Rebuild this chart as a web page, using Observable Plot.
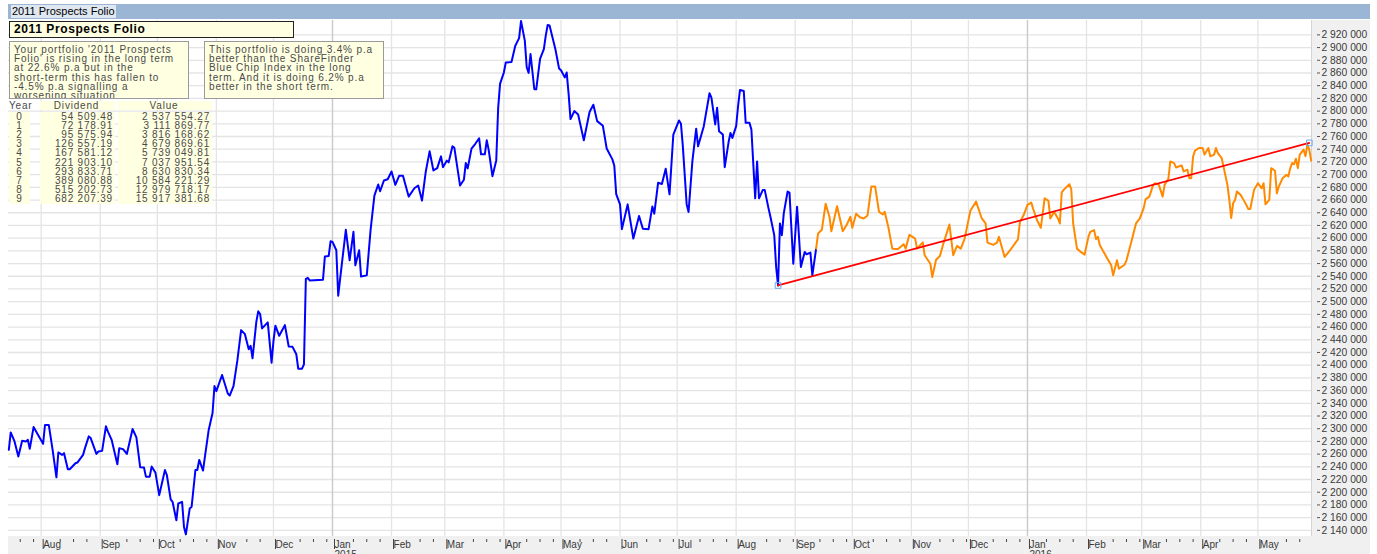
<!DOCTYPE html>
<html><head><meta charset="utf-8">
<script src="https://cdn.jsdelivr.net/npm/d3@7"></script>
<script src="https://cdn.jsdelivr.net/npm/@observablehq/plot@0.6"></script>
<style>
body{margin:0;background:#fff;width:1377px;height:554px;overflow:hidden;position:relative;font-family:"Liberation Sans",Arial,sans-serif;}
#titlebar{position:absolute;left:8px;top:4px;width:1362px;height:15px;background:#9bb5d4;}
#titlebar span{position:absolute;left:3px;top:1px;font-size:11px;line-height:13px;background:#dfe7f1;color:#000;padding:0 1px;}
#band{position:absolute;left:8px;top:20px;width:1362px;height:534px;background:#f0f0f0;}
#plotbg{position:absolute;left:8px;top:20px;width:1303px;height:516px;background:#fff;border-right:1px solid #d4d4d4;}
#chart{position:absolute;left:0;top:20px;}
.box{position:absolute;background:#ffffe1;box-sizing:border-box;overflow:hidden;}
#tbox{left:9px;top:21px;width:285px;height:17px;border:1px solid #222;font-weight:bold;font-size:12px;letter-spacing:0.6px;line-height:15px;padding-left:4px;color:#000;}
.note{top:41px;height:58px;width:180px;border:1px solid #9a9a9a;font-size:10px;letter-spacing:0.85px;line-height:9.2px;color:#4a4a4a;padding:3px 0 0 4px;}
#note1{left:9px;}
#note2{left:204px;}
#tbl{position:absolute;left:9px;top:101px;font-size:10px;letter-spacing:0.8px;color:#4a4a4a;}
#tbl div{position:absolute;height:9.2px;line-height:9.2px;white-space:nowrap;}
.cy{left:0;width:21px;text-align:center;}
.cd{left:31px;width:73px;text-align:right;background:#ffffe1;padding-right:2px;}
.cv{left:109px;width:92px;text-align:right;background:#ffffe1;padding-right:2px;}
.hd{text-align:center !important;}
</style>
</head><body>
<div id="titlebar"><span id="ttl"></span></div>
<div id="band"></div>
<div id="plotbg"></div>
<div id="chart"></div>
<div class="box" id="tbox"></div>
<div class="box note" id="note1"></div>
<div class="box note" id="note2"></div>
<div id="tbl"></div>
<script>
const chartTitle = "2011 Prospects Folio";
const note1Lines = ["Your portfolio '2011 Prospects","Folio' is rising in the long term","at 22.6% p.a but in the","short-term this has fallen to","-4.5% p.a signalling a","worsening situation"];
const note2Lines = ["This portfolio is doing 3.4% p.a","better than the ShareFinder","Blue Chip Index in the long","term. And it is doing 6.2% p.a","better in the short term."];
const tableHeaders = ["Year","Dividend","Value"];
const years = [0,1,2,3,4,5,6,7,8,9];
const dividends = [54509.48,72178.91,95575.94,126557.19,167581.12,221903.10,293833.71,389080.88,515202.73,682207.39];
const values = [2537554.27,3111869.77,3816168.62,4679869.61,5739049.81,7037951.54,8630830.34,10584221.29,12979718.17,15917381.68];

const blueDates = ["2014-07-15","2014-07-16","2014-07-18","2014-07-20","2014-07-22","2014-07-24","2014-07-25","2014-07-26","2014-07-28","2014-08-02","2014-08-03","2014-08-05","2014-08-07","2014-08-09","2014-08-10","2014-08-12","2014-08-13","2014-08-15","2014-08-16","2014-08-19","2014-08-20","2014-08-23","2014-08-24","2014-08-26","2014-08-27","2014-08-30","2014-08-31","2014-09-02","2014-09-04","2014-09-05","2014-09-07","2014-09-10","2014-09-11","2014-09-13","2014-09-15","2014-09-18","2014-09-20","2014-09-22","2014-09-24","2014-09-25","2014-09-27","2014-09-28","2014-09-30","2014-10-02","2014-10-05","2014-10-06","2014-10-08","2014-10-09","2014-10-11","2014-10-12","2014-10-14","2014-10-15","2014-10-16","2014-10-18","2014-10-19","2014-10-21","2014-10-22","2014-10-23","2014-10-25","2014-10-26","2014-10-28","2014-10-30","2014-10-31","2014-11-01","2014-11-04","2014-11-07","2014-11-08","2014-11-10","2014-11-12","2014-11-14","2014-11-16","2014-11-18","2014-11-19","2014-11-20","2014-11-22","2014-11-23","2014-11-24","2014-11-25","2014-11-28","2014-11-30","2014-12-01","2014-12-02","2014-12-04","2014-12-07","2014-12-09","2014-12-11","2014-12-13","2014-12-14","2014-12-16","2014-12-17","2014-12-18","2014-12-19","2014-12-20","2014-12-27","2014-12-28","2014-12-30","2014-12-31","2015-01-01","2015-01-03","2015-01-04","2015-01-05","2015-01-08","2015-01-10","2015-01-12","2015-01-13","2015-01-15","2015-01-16","2015-01-19","2015-01-21","2015-01-23","2015-01-25","2015-01-26","2015-01-28","2015-01-30","2015-02-01","2015-02-03","2015-02-05","2015-02-07","2015-02-10","2015-02-13","2015-02-15","2015-02-17","2015-02-19","2015-02-21","2015-02-23","2015-02-25","2015-02-27","2015-02-28","2015-03-02","2015-03-03","2015-03-05","2015-03-06","2015-03-09","2015-03-11","2015-03-12","2015-03-13","2015-03-15","2015-03-17","2015-03-19","2015-03-20","2015-03-22","2015-03-23","2015-03-24","2015-03-26","2015-03-28","2015-03-29","2015-03-30","2015-04-01","2015-04-02","2015-04-05","2015-04-07","2015-04-09","2015-04-10","2015-04-12","2015-04-13","2015-04-14","2015-04-15","2015-04-17","2015-04-18","2015-04-20","2015-04-22","2015-04-23","2015-04-24","2015-04-25","2015-04-28","2015-04-30","2015-05-01","2015-05-03","2015-05-04","2015-05-05","2015-05-06","2015-05-08","2015-05-10","2015-05-13","2015-05-16","2015-05-18","2015-05-20","2015-05-23","2015-05-25","2015-05-28","2015-05-29","2015-05-30","2015-06-01","2015-06-02","2015-06-05","2015-06-08","2015-06-11","2015-06-13","2015-06-16","2015-06-18","2015-06-19","2015-06-21","2015-06-23","2015-06-25","2015-06-27","2015-06-29","2015-07-02","2015-07-03","2015-07-04","2015-07-06","2015-07-07","2015-07-09","2015-07-11","2015-07-12","2015-07-15","2015-07-18","2015-07-19","2015-07-21","2015-07-22","2015-07-23","2015-07-25","2015-07-26","2015-07-28","2015-07-29","2015-07-30","2015-08-01","2015-08-02","2015-08-03","2015-08-05","2015-08-06","2015-08-08","2015-08-09","2015-08-11","2015-08-12","2015-08-13","2015-08-15","2015-08-16","2015-08-18","2015-08-19","2015-08-21","2015-08-22","2015-08-23","2015-08-24","2015-08-25","2015-08-26","2015-08-28","2015-08-29","2015-08-31","2015-09-02","2015-09-04","2015-09-06","2015-09-07","2015-09-09","2015-09-10","2015-09-12"];
const blueValues = [2266700,2294200,2280000,2256200,2280900,2280000,2282500,2268300,2302600,2276200,2305800,2305800,2266700,2223400,2262600,2258800,2261500,2236100,2236100,2245600,2246700,2258800,2269400,2287900,2285200,2260300,2264100,2265100,2303700,2295800,2282500,2244000,2269400,2267800,2260300,2299500,2286300,2239300,2238800,2224500,2224500,2240400,2230900,2195400,2235000,2227100,2188600,2184900,2155800,2182200,2184900,2145300,2133600,2174300,2177000,2235000,2235000,2250800,2234100,2256200,2298400,2324800,2367100,2359200,2384500,2355400,2352200,2367100,2406700,2455200,2448800,2425100,2430500,2410800,2468500,2484800,2480500,2457900,2467400,2404000,2438400,2462200,2446300,2463100,2429400,2428900,2417200,2394500,2394500,2401300,2536000,2537600,2533400,2534700,2571200,2571900,2595200,2594100,2581000,2509400,2536000,2613100,2565100,2610000,2557200,2581000,2539500,2541400,2613100,2667000,2684400,2673800,2690700,2692800,2705000,2683900,2698200,2698200,2665400,2678500,2682800,2659100,2705000,2736700,2706600,2710200,2728800,2711800,2722000,2719300,2744600,2742200,2682800,2691900,2718200,2709800,2741000,2748600,2757300,2731900,2731900,2754100,2739400,2697600,2722400,2804800,2842800,2860700,2876600,2877200,2903000,2914900,2941800,2910900,2869000,2860200,2889900,2834400,2834400,2882400,2897500,2918900,2935500,2934700,2898300,2867100,2864200,2853100,2860700,2827000,2787400,2800000,2794800,2754100,2798500,2810000,2784200,2776800,2741100,2724000,2714000,2669400,2653200,2614200,2653200,2599300,2635000,2614700,2614200,2650000,2638500,2687100,2685200,2709400,2669000,2763100,2785300,2780200,2744600,2653500,2641200,2720800,2772300,2744600,2776300,2828100,2821100,2779000,2805300,2768400,2763100,2711800,2750900,2765700,2757800,2776300,2808000,2833300,2831700,2781500,2781500,2771100,2662700,2720800,2662700,2676000,2676000,2646900,2633700,2604700,2554500,2525500,2623100,2604700,2638900,2673300,2671700,2559700,2649600,2554500,2578300,2574600,2577200,2541400,2583500];

const orangeDates = ["2015-09-12","2015-09-13","2015-09-15","2015-09-17","2015-09-19","2015-09-20","2015-09-23","2015-09-26","2015-09-28","2015-09-30","2015-10-01","2015-10-03","2015-10-05","2015-10-07","2015-10-09","2015-10-11","2015-10-13","2015-10-15","2015-10-17","2015-10-18","2015-10-20","2015-10-22","2015-10-25","2015-10-28","2015-10-29","2015-10-31","2015-11-03","2015-11-04","2015-11-07","2015-11-08","2015-11-11","2015-11-12","2015-11-14","2015-11-16","2015-11-18","2015-11-21","2015-11-23","2015-11-25","2015-11-27","2015-11-29","2015-12-02","2015-12-05","2015-12-08","2015-12-10","2015-12-11","2015-12-14","2015-12-16","2015-12-17","2015-12-19","2015-12-20","2015-12-23","2015-12-26","2015-12-27","2015-12-28","2015-12-30","2016-01-01","2016-01-03","2016-01-04","2016-01-06","2016-01-08","2016-01-09","2016-01-10","2016-01-12","2016-01-13","2016-01-15","2016-01-17","2016-01-18","2016-01-19","2016-01-20","2016-01-23","2016-01-24","2016-01-25","2016-01-27","2016-01-29","2016-01-31","2016-02-02","2016-02-03","2016-02-05","2016-02-06","2016-02-07","2016-02-08","2016-02-10","2016-02-12","2016-02-14","2016-02-15","2016-02-17","2016-02-18","2016-02-21","2016-02-22","2016-02-25","2016-02-27","2016-02-29","2016-03-02","2016-03-03","2016-03-05","2016-03-07","2016-03-08","2016-03-10","2016-03-12","2016-03-13","2016-03-15","2016-03-16","2016-03-18","2016-03-19","2016-03-22","2016-03-23","2016-03-25","2016-03-26","2016-03-27","2016-03-28","2016-03-29","2016-03-31","2016-04-02","2016-04-03","2016-04-05","2016-04-06","2016-04-08","2016-04-09","2016-04-10","2016-04-12","2016-04-15","2016-04-16","2016-04-17","2016-04-18","2016-04-19","2016-04-20","2016-04-22","2016-04-24","2016-04-26","2016-04-27","2016-04-29","2016-05-01","2016-05-03","2016-05-04","2016-05-05","2016-05-07","2016-05-08","2016-05-10","2016-05-11","2016-05-12","2016-05-14","2016-05-16","2016-05-17","2016-05-18","2016-05-19","2016-05-20","2016-05-21","2016-05-22","2016-05-23","2016-05-25","2016-05-26","2016-05-27","2016-05-28","2016-05-29"];
const orangeValues = [2583500,2607300,2613100,2654300,2633700,2610800,2650300,2610800,2620600,2633700,2616300,2638500,2632900,2631000,2635800,2681200,2681200,2641600,2637400,2641600,2616300,2583500,2583000,2590500,2583500,2605200,2599300,2583500,2593300,2573100,2559700,2538700,2566100,2571900,2593000,2621500,2573100,2587800,2583500,2599300,2643200,2657500,2631000,2623100,2593000,2589400,2593000,2602000,2581000,2570400,2581400,2594100,2598100,2625000,2636400,2652300,2655900,2645900,2628500,2616300,2638900,2662700,2658600,2631000,2641600,2631000,2623100,2672200,2676000,2684900,2677000,2623100,2583500,2578300,2574000,2602000,2610000,2612700,2598400,2602000,2588900,2578300,2567700,2557200,2541400,2565100,2551800,2558200,2565100,2599300,2623100,2631000,2646900,2661100,2665400,2683900,2686500,2683900,2665400,2683900,2693400,2720800,2718200,2711300,2714500,2705000,2707700,2694400,2694400,2728800,2737800,2741900,2741900,2731500,2741900,2728800,2731500,2741900,2734000,2726100,2683900,2660200,2631700,2654800,2660200,2673300,2668100,2657500,2645900,2645900,2676000,2686500,2678500,2686500,2653200,2660200,2710200,2706100,2670600,2681200,2694400,2699800,2697100,2710200,2718200,2716600,2725100,2710200,2731500,2739400,2728800,2747300,2739400,2722000];

const trendDates = ["2015-08-23","2016-05-28"];
const trendValues = [2525500,2750000];

const yTickValues = d3.range(2140000, 2920001, 20000);
const monthNames = ["Jan","Feb","Mar","Apr","May","Jun","Jul","Aug","Sep","Oct","Nov","Dec"];

const parse = d3.utcParse("%Y-%m-%d");
const blue = blueDates.map((d,i)=>({date:parse(d), value:blueValues[i]}));
const orange = orangeDates.map((d,i)=>({date:parse(d), value:orangeValues[i]}));
const trend = trendDates.map((d,i)=>({date:parse(d), value:trendValues[i]}));

const xDomain = [new Date(Date.UTC(2014,6,14,20)), new Date(Date.UTC(2016,4,29,4))];
const monthTicks = d3.utcMonth.range(new Date(Date.UTC(2014,7,1)), new Date(Date.UTC(2016,5,1)));
const janTicks = monthTicks.filter(d=>d.getUTCMonth()===0);
const weekTicks = d3.utcMonday.range(xDomain[0], xDomain[1]).filter(d=>d.getUTCDate()>10);
const fmtMonth = d => d.getUTCMonth()===0 ? monthNames[0]+"\n"+d.getUTCFullYear() : monthNames[d.getUTCMonth()];
const fmtY = d => d3.format(",")(d).replace(/,/g," ");

const chart = Plot.plot({
  width: 1377, height: 534,
  marginLeft: 8, marginRight: 66, marginTop: 0, marginBottom: 18,
  style: {background:"transparent", fontFamily:"'Liberation Sans', Arial, sans-serif", fontSize:"10px", color:"#3a3a3a", overflow:"visible"},
  x: {type:"utc", domain:xDomain, label:null},
  y: {domain:[2130300, 2942650], label:null},
  marks: [
    Plot.gridY(yTickValues, {stroke:"#e4e4e4", strokeOpacity:1, strokeWidth:1.3}),
    Plot.gridX(monthTicks, {stroke:"#e4e4e4", strokeOpacity:1, strokeWidth:1.3}),
    Plot.gridX(janTicks, {stroke:"#cacaca", strokeOpacity:1, strokeWidth:1.3}),
    Plot.axisY(yTickValues, {anchor:"right", label:null, tickSize:3, tickPadding:2, dx:5, tickFormat:fmtY, fontSize:10.3, stroke:"#555", fill:"#3a3a3a"}),
    Plot.axisX(weekTicks, {anchor:"bottom", label:null, tickSize:3, tickFormat:()=>"", dy:3, stroke:"#444"}),
    Plot.axisX(monthTicks, {anchor:"bottom", label:null, tickSize:10, tickPadding:-8, textAnchor:"start", dx:2, dy:3, tickFormat:fmtMonth, fontSize:10, lineHeight:0.95, stroke:"#444", fill:"#3a3a3a"}),
    Plot.line(blue, {x:"date", y:"value", stroke:"#0000ff", strokeWidth:2}),
    Plot.line(orange, {x:"date", y:"value", stroke:"#ff8a00", strokeWidth:2}),
    Plot.line(trend, {x:"date", y:"value", stroke:"#ff0000", strokeWidth:1.8}),
    Plot.dot(trend, {x:"date", y:"value", symbol:"square", r:3.2, stroke:"#66aaee", fill:"none", strokeWidth:1})
  ]
});
document.getElementById("chart").appendChild(chart);

document.getElementById("ttl").textContent = chartTitle;
document.getElementById("tbox").textContent = chartTitle;
document.getElementById("note1").innerHTML = note1Lines.join("<br>");
document.getElementById("note2").innerHTML = note2Lines.join("<br>");
const fmtN = d => d3.format(",.2f")(d).replace(/,/g," ");
const tbl = document.getElementById("tbl");
let html = `<div class="cy" style="top:0">${tableHeaders[0]}</div><div class="cd hd" style="top:0">${tableHeaders[1]}</div><div class="cv hd" style="top:0">${tableHeaders[2]}</div>`;
years.forEach((y,i)=>{
  const t = (10.5 + i*9.22).toFixed(2);
  html += `<div class="cy" style="top:${t}px;background:#ffffe1">${y}</div><div class="cd" style="top:${t}px">${fmtN(dividends[i])}</div><div class="cv" style="top:${t}px">${fmtN(values[i])}</div>`;
});
tbl.innerHTML = html;
</script>
</body></html>
